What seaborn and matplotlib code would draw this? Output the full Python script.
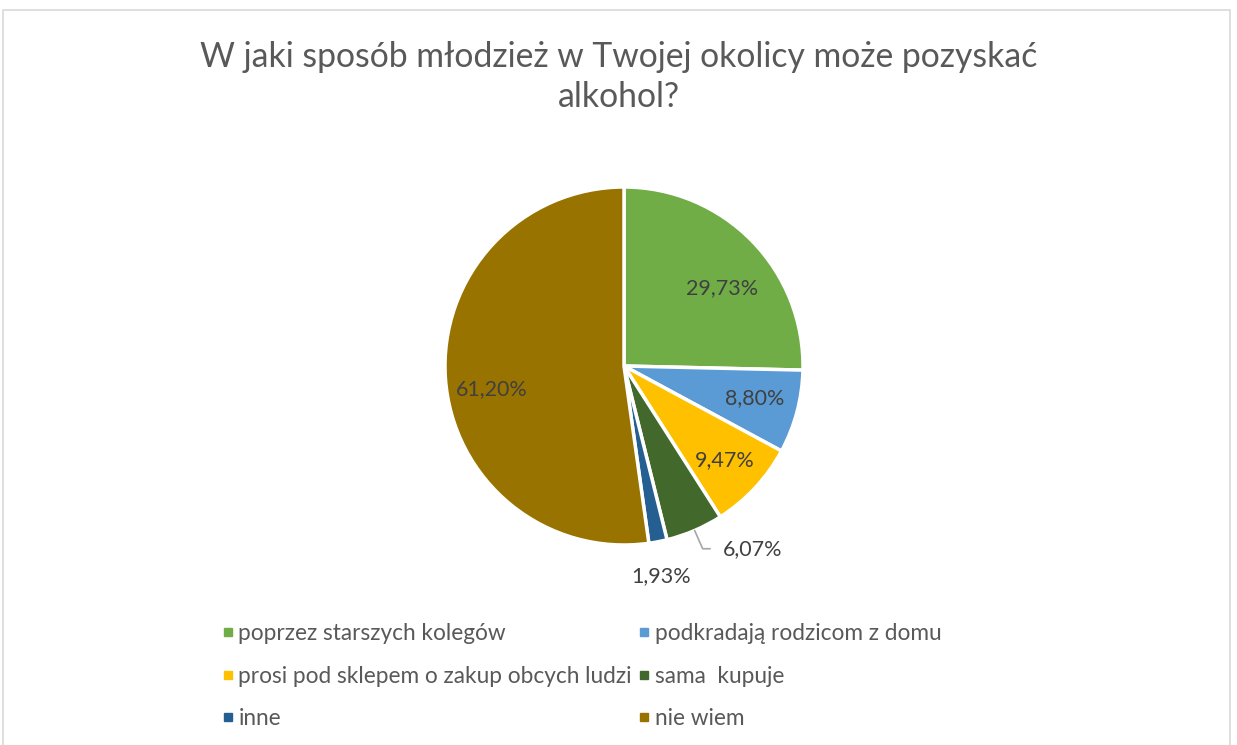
import numpy as np
import seaborn as sns
import matplotlib.pyplot as plt
from matplotlib.patches import Rectangle

sns.set_theme(style="white")
plt.rcParams['font.family'] = ['Lato', 'DejaVu Sans']

# data
title = "W jaki sposób młodzież w Twojej okolicy może pozyskać\nalkohol?"
categories = ["poprzez starszych kolegów", "podkradają rodzicom z domu",
              "prosi pod sklepem o zakup obcych ludzi", "sama  kupuje",
              "inne", "nie wiem"]
values = [29.73, 8.80, 9.47, 6.07, 1.93, 61.20]
labels = ["29,73%", "8,80%", "9,47%", "6,07%", "1,93%", "61,20%"]
colors = ["#70AD47", "#5B9BD5", "#FFC000", "#43682B", "#255E91", "#997300"]

W, H = 1237, 745
fig = plt.figure(figsize=(W / 100, H / 100), dpi=100)
fig.patch.set_facecolor("white")

# chart border
fig.add_artist(Rectangle((3 / W, -0.01), 1227 / W, (H - 10) / H + 0.01,
                         transform=fig.transFigure, fill=False,
                         edgecolor="#D9D9D9", linewidth=1.2))

cx, cy, r = 624, H - 366, 179
ax = fig.add_axes([(cx - r) / W, (cy - r) / H, 2 * r / W, 2 * r / H])
wedges, _ = ax.pie(values, colors=colors, startangle=90, counterclock=False,
                   radius=1, wedgeprops=dict(edgecolor="white", linewidth=2.5))
ax.set_xlim(-1, 1)
ax.set_ylim(-1, 1)
ax.set_aspect("equal")
ax.axis("off")

# label placement: (radius, angle offset in deg) per slice
placement = [(0.70, -6), (0.75, 1), (0.77, 0), (1.25, 12), (1.19, -1), (0.75, 6)]
for w, lab, (rad, off) in zip(wedges, labels, placement):
    mid = np.deg2rad((w.theta1 + w.theta2) / 2 + off)
    x, y = rad * np.cos(mid), rad * np.sin(mid)
    ax.text(x, y, lab, ha="center", va="center", fontsize=15.5, color="#404040")
    if rad > 1.2:
        # leader line for small outside label
        m0 = np.deg2rad((w.theta1 + w.theta2) / 2)
        x0, y0 = 1.0 * np.cos(m0), 1.0 * np.sin(m0)
        ax.plot([x0, x0 + 0.045, x - 0.24], [y0, y, y], color="#A6A6A6",
                linewidth=1.2, clip_on=False)

fig.text(0.5, 1 - 77 / H, title, ha="center", va="center", fontsize=24.3,
         color="#595959", linespacing=1.3)

# legend filled row by row
order = [0, 2, 4, 1, 3, 5]
handles = [plt.Line2D([], [], marker="s", linestyle="", markersize=6,
                      markerfacecolor=colors[i], markeredgecolor=colors[i])
           for i in order]
fig.legend(handles, [categories[i] for i in order], ncol=2, loc="upper left",
           bbox_to_anchor=(200 / W, 1 - 603 / H), frameon=False,
           fontsize=16.3, labelcolor="#595959", handletextpad=0.1,
           handlelength=0.7, columnspacing=0.2, labelspacing=0.95)

fig.savefig("out.png", dpi=100, facecolor="white")
